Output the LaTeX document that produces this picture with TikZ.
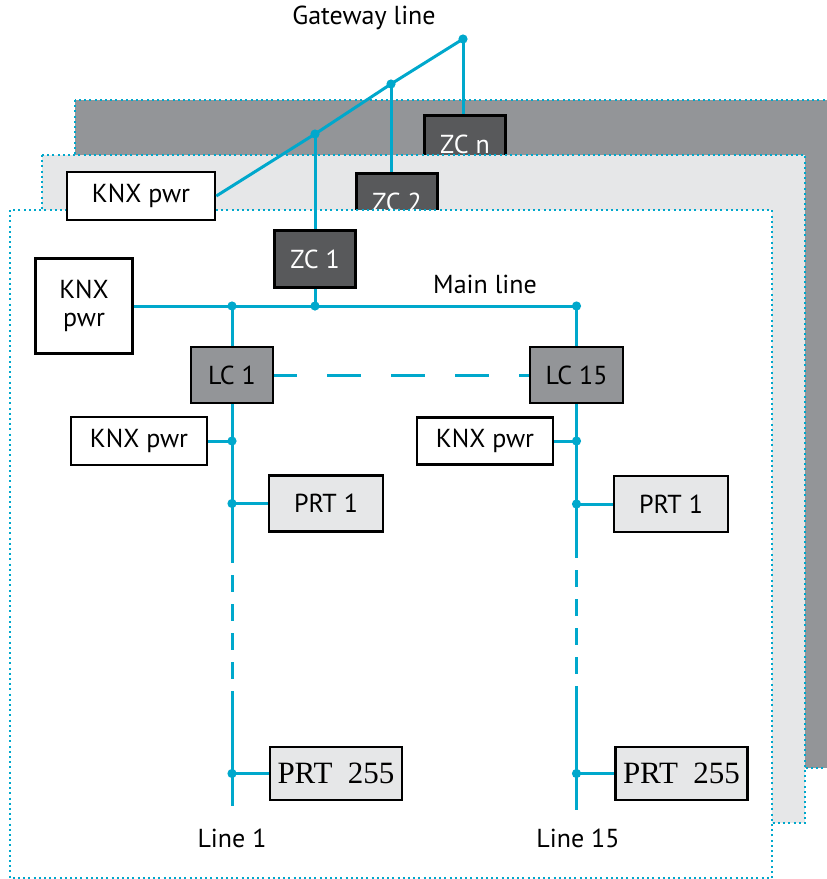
\documentclass[tikz,border=0pt]{standalone}
\usepackage{fontspec}
\setmainfont{PT Sans}
\newfontfamily\prtfont{Liberation Serif}
\usetikzlibrary{positioning,calc}
\definecolor{knxteal}{RGB}{0,168,204}
\definecolor{backgray}{RGB}{147,149,152}
\definecolor{midgray}{RGB}{230,231,232}
\definecolor{zcgray}{RGB}{88,89,91}
\definecolor{lcgray}{RGB}{147,149,152}
\definecolor{prtgray}{RGB}{230,231,232}

\begin{document}
\begin{tikzpicture}[
  x=0.5pt,y=-0.5pt,
  font=\fontsize{13}{14}\selectfont,
  box/.style={draw=black,line width=1.3pt,align=center,inner sep=2pt},
  pwr/.style={box,fill=white},
  zc/.style={box,fill=zcgray,text=white,minimum width=40.5pt,minimum height=28.5pt},
  lc/.style={box,fill=lcgray,minimum height=28pt},
  prt/.style={box,fill=prtgray,minimum height=28pt,minimum width=57pt},
  prtbig/.style={box,fill=prtgray,minimum height=26.5pt,minimum width=66pt,
                 font=\prtfont\fontsize{15.5}{16}\selectfont},
  layer/.style={draw=knxteal,line width=1pt,dash pattern=on 1pt off 1.6pt},
  bus/.style={knxteal,line width=1.5pt},
  busgap/.style={bus,dash pattern=on 8.5pt off 6pt,dash phase=8.5pt},
  lcgap/.style={bus,dash pattern=on 17pt off 15pt,dash phase=5.5pt},
  lbl/.style={inner sep=0pt},
]
\useasboundingbox (0,0) rectangle (826,879);
% ----- stacked areas (back to front)
\path[layer,fill=backgray] (75,100) rectangle (840,768);
\node[zc] (zcn) at (465,144) {ZC n};
\path[layer,fill=midgray] (42,155) rectangle (805,823);
\node[zc] (zc2) at (397,202) {ZC 2};
\path[layer,fill=white] (10,210) rectangle (772,878);
% ----- gateway line
\node[pwr,minimum width=74pt,minimum height=24pt] (kpgw) at (141,196) {KNX pwr};
\node[lbl] (gwlabel) at (364,18) {Gateway line};
\coordinate (gwtop) at (463,39);
\coordinate (gw2) at (391,84);
\coordinate (gw1) at (315,134);
\node[zc] (zc1) at (315,259) {ZC 1};
\draw[bus] (kpgw.east) -- (gw1) -- (gw2) -- (gwtop);
\draw[bus] (gwtop) -- (gwtop |- zcn.north);
\draw[bus] (gw2) -- (gw2 |- zc2.north);
\draw[bus] (gw1) -- (zc1.north);
% ----- main line
\node[pwr,minimum width=48.5pt,minimum height=47.5pt] (kpmain) at (84,306) {KNX\\pwr};
\node[lbl] (mainlabel) at (485,284) {Main line};
\coordinate (m1) at (232,306);
\coordinate (mz) at (315,306);
\coordinate (m15) at (576.5,306);
\node[lc,minimum width=41pt] (lc1) at (232,375) {LC 1};
\node[lc,minimum width=46.5pt] (lc15) at (576.5,375) {LC 15};
\draw[bus] (kpmain.east) -- (m15);
\draw[bus] (zc1.south) -- (mz);
\draw[bus] (m1) -- (lc1.north);
\draw[bus] (m15) -- (lc15.north);
\draw[lcgap] (lc1.east) -- (lc15.west);
% ----- line 1
\node[pwr,minimum width=68pt,minimum height=24pt] (kp1) at (139,441) {KNX pwr};
\node[prt] (prt1a) at (326,503.5) {PRT 1};
\node[prtbig] (prt1b) at (336,773.5) {PRT~~255};
\coordinate (d1a) at (232,441);
\coordinate (d1b) at (232,503.5);
\coordinate (d1c) at (232,773.5);
\coordinate (l1gap) at (232,563);
\coordinate (l1back) at (232,702);
\coordinate (l1end) at (232,806);
\draw[bus] (lc1.south) -- (l1gap);
\draw[busgap] (l1gap) -- (l1back);
\draw[bus] (l1back) -- (l1end);
\draw[bus] (kp1.east) -- (d1a);
\draw[bus] (d1b) -- (prt1a.west);
\draw[bus] (d1c) -- (prt1b.west);
\node[lbl] (l1label) at (232,838) {Line 1};
% ----- line 15
\node[pwr,minimum width=68pt,minimum height=23.5pt] (kp15) at (485,441) {KNX pwr};
\node[prt] (prt15a) at (671,504) {PRT 1};
\node[prtbig] (prt15b) at (681.5,773.5) {PRT~~255};
\coordinate (d15a) at (576.5,441);
\coordinate (d15b) at (576.5,504);
\coordinate (d15c) at (576.5,773.5);
\coordinate (l15gap) at (576.5,558);
\coordinate (l15back) at (576.5,700);
\coordinate (l15end) at (576.5,810);
\draw[bus] (lc15.south) -- (l15gap);
\draw[busgap] (l15gap) -- (l15back);
\draw[bus] (l15back) -- (l15end);
\draw[bus] (kp15.east) -- (d15a);
\draw[bus] (d15b) -- (prt15a.west);
\draw[bus] (d15c) -- (prt15b.west);
\node[lbl] (l15label) at (578,838) {Line 15};
% ----- junction dots
\foreach \d in {gwtop,gw2,gw1,m1,mz,m15,d1a,d1b,d1c,d15a,d15b,d15c}
  \fill[knxteal] (\d) circle (2.3pt);
\end{tikzpicture}
\end{document}
